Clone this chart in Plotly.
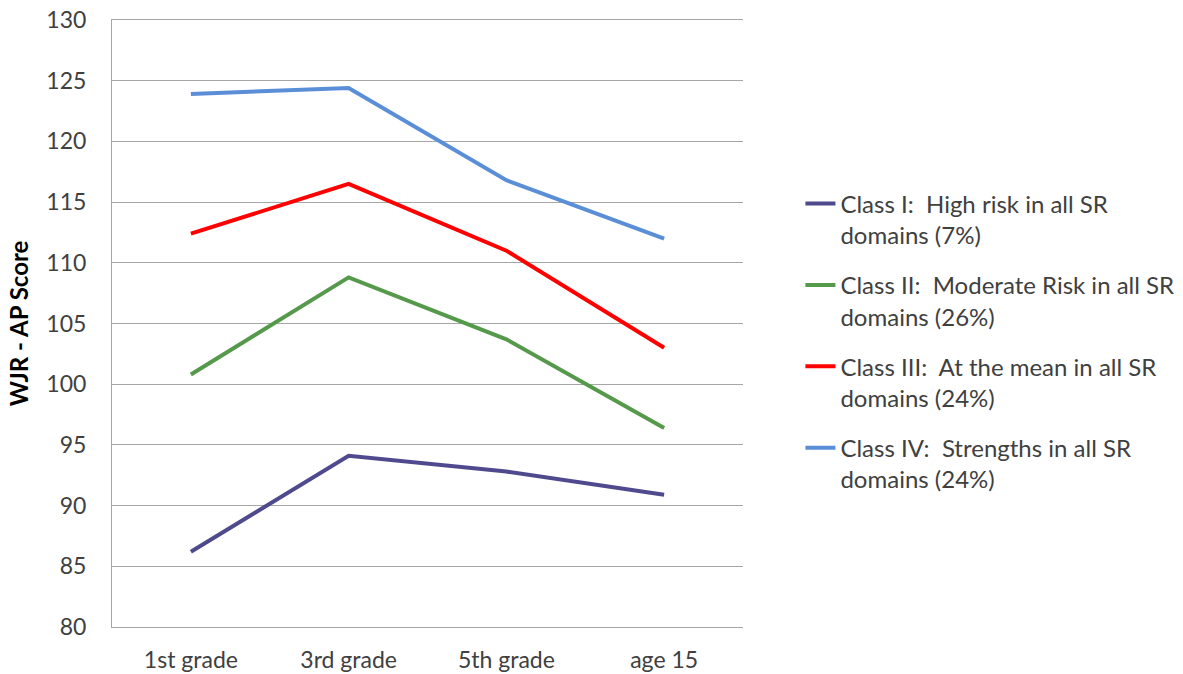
import plotly.graph_objects as go

categories = ["1st grade", "3rd grade", "5th grade", "age 15"]
class_i = [86.2, 94.1, 92.8, 90.9]
class_ii = [100.8, 108.8, 103.7, 96.4]
class_iii = [112.4, 116.5, 111.0, 103.0]
class_iv = [123.9, 124.4, 116.8, 112.0]

names = [
    "Class I:  High risk in all SR<br>domains (7%)",
    "Class II:  Moderate Risk in all SR<br>domains (26%)",
    "Class III:  At the mean in all SR<br>domains (24%)",
    "Class IV:  Strengths in all SR<br>domains (24%)",
]
colors = ["#4F4A8E", "#55994A", "#FF0000", "#5A8FD8"]
series = [class_i, class_ii, class_iii, class_iv]

FONT = "Lato"

fig = go.Figure()
for i, (nm, vals, col) in enumerate(zip(names, series, colors)):
    fig.add_trace(go.Scatter(
        x=categories, y=vals, mode="lines", name=nm,
        line=dict(color=col, width=4), legendgroup=f"g{i}",
    ))

grid = "#A6A6A6"
fig.update_layout(
    width=1183, height=674,
    margin=dict(l=112, r=440, t=20, b=47, autoexpand=False),
    paper_bgcolor="white", plot_bgcolor="white",
    font=dict(family=FONT, color="#404040"),
    showlegend=True,
    legend=dict(
        x=1.091, xanchor="left", y=0.734, yanchor="top",
        font=dict(family=FONT, size=24, color="#404040"),
        valign="top", tracegroupgap=16, traceorder="grouped",
        bgcolor="rgba(0,0,0,0)",
    ),
    xaxis=dict(
        type="category", range=[-0.5, 3.5], automargin=False,
        showgrid=False, showline=True, mirror=True, linecolor=grid, linewidth=1,
        ticks="", tickfont=dict(family=FONT, size=23, color="#404040"),
        ticklabelstandoff=12, zeroline=False,
    ),
    yaxis=dict(
        range=[80, 130], dtick=5, tick0=80, automargin=False,
        showgrid=True, gridcolor=grid, gridwidth=1,
        showline=True, linecolor=grid, linewidth=1,
        ticks="", tickfont=dict(family=FONT, size=23, color="#404040"),
        ticklabelstandoff=20, ticklabeloverflow="allow", zeroline=False,
        title=dict(text="<b>WJR - AP Score</b>", font=dict(family=FONT, size=24, color="black"), standoff=10),
    ),
)

fig.write_html(
    "out.html",
    config={"displayModeBar": False},
    post_script="document.body.style.margin='0';document.body.style.overflow='hidden';",
)
